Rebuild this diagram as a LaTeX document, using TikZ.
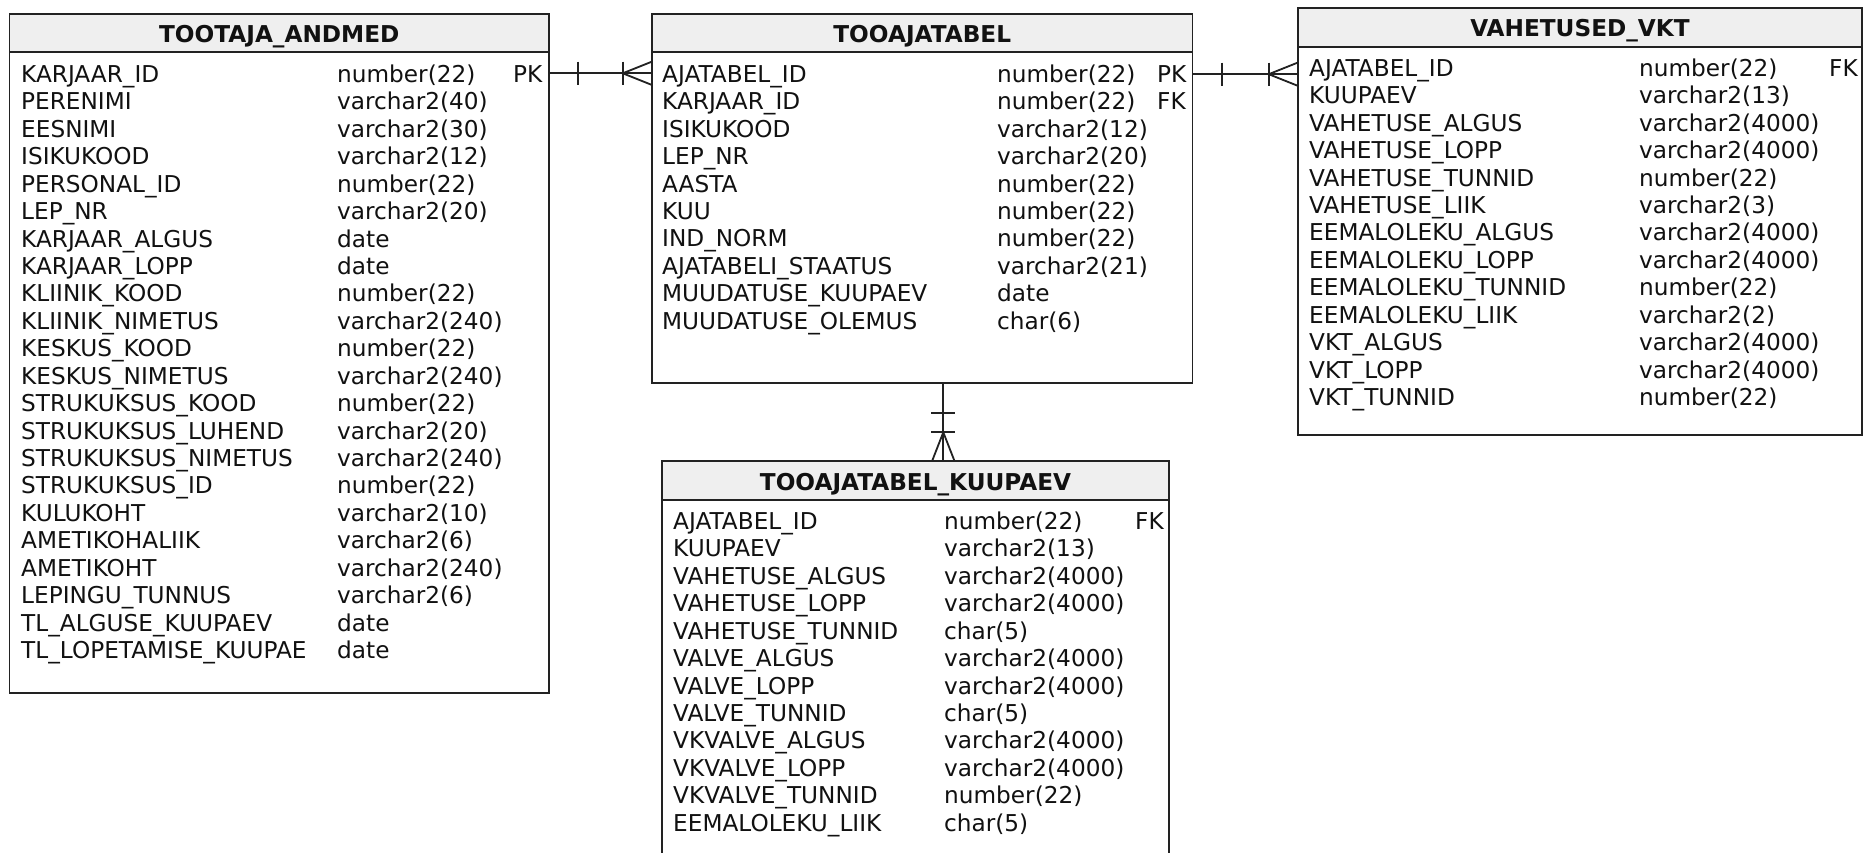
\documentclass[tikz,border=0pt]{standalone}
\usepackage{fontspec}
\setmainfont{DejaVu Sans}
\usetikzlibrary{calc}
\definecolor{linecol}{HTML}{222222}
\definecolor{hdrgray}{HTML}{EFEFEF}
\definecolor{txtcol}{HTML}{111111}
\newcommand\erfont{\fontsize{23.2}{27.4}\selectfont}
\tikzset{
  tbl/.style={draw=linecol, line width=1.8pt, fill=white},
  hdr/.style={draw=linecol, line width=1.8pt, fill=hdrgray},
  ttl/.style={font=\erfont\bfseries, anchor=base, inner sep=0pt, text=txtcol},
  fld/.style={font=\erfont, anchor=base west, inner sep=0pt, text=txtcol},
  conn/.style={line width=1.8pt, draw=linecol, line cap=butt},
}
\newcommand\ertrows[6]{%
  \foreach \n/\t/\k [count=\i from 0] in {#6} {
    \node[fld] (#1-n\i) at (#2, {#5+\i*27.43}) {\n};
    \node[fld] (#1-t\i) at (#3, {#5+\i*27.43}) {\t};
    \node[fld] (#1-k\i) at (#4, {#5+\i*27.43}) {\k};
  }%
}
\begin{document}
\begin{tikzpicture}[x=1pt,y=-1pt,font=\erfont]
\clip (0,0) rectangle (1863,852);
\useasboundingbox (0,0) rectangle (1863,852);

% ---------- TOOTAJA_ANDMED ----------
\path[tbl] (9.5,14) rectangle (549,693);
\node[draw=none, minimum width=539.5pt, minimum height=679pt, anchor=north west, inner sep=0pt] (ta) at (9.5,14) {};
\path[hdr] (9.5,14) rectangle (549,52);
\node[ttl] (ta-title) at (279.25,42.5) {TOOTAJA\_ANDMED};
\ertrows{ta}{21}{337}{513}{82.5}{KARJAAR\_ID/number(22)/PK, PERENIMI/varchar2(40)/, EESNIMI/varchar2(30)/, ISIKUKOOD/varchar2(12)/, PERSONAL\_ID/number(22)/, LEP\_NR/varchar2(20)/, KARJAAR\_ALGUS/date/, KARJAAR\_LOPP/date/, KLIINIK\_KOOD/number(22)/, KLIINIK\_NIMETUS/varchar2(240)/, KESKUS\_KOOD/number(22)/, KESKUS\_NIMETUS/varchar2(240)/, STRUKUKSUS\_KOOD/number(22)/, STRUKUKSUS\_LUHEND/varchar2(20)/, STRUKUKSUS\_NIMETUS/varchar2(240)/, STRUKUKSUS\_ID/number(22)/, KULUKOHT/varchar2(10)/, AMETIKOHALIIK/varchar2(6)/, AMETIKOHT/varchar2(240)/, LEPINGU\_TUNNUS/varchar2(6)/, TL\_ALGUSE\_KUUPAEV/date/, TL\_LOPETAMISE\_KUUPAE/date/}

% ---------- TOOAJATABEL ----------
\path[tbl] (652,14) rectangle (1192.5,383);
\node[draw=none, minimum width=540.5pt, minimum height=369pt, anchor=north west, inner sep=0pt] (tt) at (652,14) {};
\path[hdr] (652,14) rectangle (1192.5,52);
\node[ttl] (tt-title) at (922.25,42.5) {TOOAJATABEL};
\ertrows{tt}{662}{997}{1157}{82.3}{AJATABEL\_ID/number(22)/PK, KARJAAR\_ID/number(22)/FK, ISIKUKOOD/varchar2(12)/, LEP\_NR/varchar2(20)/, AASTA/number(22)/, KUU/number(22)/, IND\_NORM/number(22)/, AJATABELI\_STAATUS/varchar2(21)/, MUUDATUSE\_KUUPAEV/date/, MUUDATUSE\_OLEMUS/char(6)/}

% ---------- VAHETUSED_VKT ----------
\path[tbl] (1298,8) rectangle (1862,435);
\node[draw=none, minimum width=564pt, minimum height=427pt, anchor=north west, inner sep=0pt] (vk) at (1298,8) {};
\path[hdr] (1298,8) rectangle (1862,47);
\node[ttl] (vk-title) at (1580,36.5) {VAHETUSED\_VKT};
\ertrows{vk}{1309}{1639}{1829}{76.3}{AJATABEL\_ID/number(22)/FK, KUUPAEV/varchar2(13)/, VAHETUSE\_ALGUS/varchar2(4000)/, VAHETUSE\_LOPP/varchar2(4000)/, VAHETUSE\_TUNNID/number(22)/, VAHETUSE\_LIIK/varchar2(3)/, EEMALOLEKU\_ALGUS/varchar2(4000)/, EEMALOLEKU\_LOPP/varchar2(4000)/, EEMALOLEKU\_TUNNID/number(22)/, EEMALOLEKU\_LIIK/varchar2(2)/, VKT\_ALGUS/varchar2(4000)/, VKT\_LOPP/varchar2(4000)/, VKT\_TUNNID/number(22)/}

% ---------- TOOAJATABEL_KUUPAEV ----------
\path[tbl] (662,461) rectangle (1169,900);
\node[draw=none, minimum width=507pt, minimum height=439pt, anchor=north west, inner sep=0pt] (kp) at (662,461) {};
\path[hdr] (662,461) rectangle (1169,500);
\node[ttl] (kp-title) at (915.5,490) {TOOAJATABEL\_KUUPAEV};
\ertrows{kp}{673}{944}{1135}{529.5}{AJATABEL\_ID/number(22)/FK, KUUPAEV/varchar2(13)/, VAHETUSE\_ALGUS/varchar2(4000)/, VAHETUSE\_LOPP/varchar2(4000)/, VAHETUSE\_TUNNID/char(5)/, VALVE\_ALGUS/varchar2(4000)/, VALVE\_LOPP/varchar2(4000)/, VALVE\_TUNNID/char(5)/, VKVALVE\_ALGUS/varchar2(4000)/, VKVALVE\_LOPP/varchar2(4000)/, VKVALVE\_TUNNID/number(22)/, EEMALOLEKU\_LIIK/char(5)/}

% ---------- connectors ----------
% TOOTAJA_ANDMED -> TOOAJATABEL
\coordinate (r1) at (0,73.3);
\coordinate (c1s) at (ta.east |- r1);
\coordinate (c1e) at (tt.west |- r1);
\draw[conn] (c1s) -- (c1e);
\draw[conn] ($(c1s)+(28.3,-11.7)$) -- ($(c1s)+(28.3,11.7)$);
\draw[conn] ($(c1e)+(-29.3,-11.7)$) -- ($(c1e)+(-29.3,11.7)$);
\draw[conn] ($(c1e)+(0,-11.7)$) -- ($(c1e)+(-29.3,0)$) -- ($(c1e)+(0,11.7)$);

% TOOAJATABEL -> VAHETUSED_VKT
\coordinate (r2) at (0,74.2);
\coordinate (c2s) at (tt.east |- r2);
\coordinate (c2e) at (vk.west |- r2);
\draw[conn] (c2s) -- (c2e);
\draw[conn] ($(c2s)+(29.2,-11.7)$) -- ($(c2s)+(29.2,11.7)$);
\draw[conn] ($(c2e)+(-29.3,-11.7)$) -- ($(c2e)+(-29.3,11.7)$);
\draw[conn] ($(c2e)+(0,-11.7)$) -- ($(c2e)+(-29.3,0)$) -- ($(c2e)+(0,11.7)$);

% TOOAJATABEL -> TOOAJATABEL_KUUPAEV
\coordinate (cx) at (943.3,0);
\coordinate (c3s) at (tt.south -| cx);
\coordinate (c3e) at (kp.north -| cx);
\draw[conn] (c3s) -- (c3e);
\draw[conn] ($(c3s)+(-12,29.4)$) -- ($(c3s)+(12,29.4)$);
\draw[conn] ($(c3e)+(-12,-28.7)$) -- ($(c3e)+(12,-28.7)$);
\draw[conn] ($(c3e)+(-11.2,0)$) -- ($(c3e)+(0,-28.7)$) -- ($(c3e)+(11.2,0)$);
\end{tikzpicture}
\end{document}
